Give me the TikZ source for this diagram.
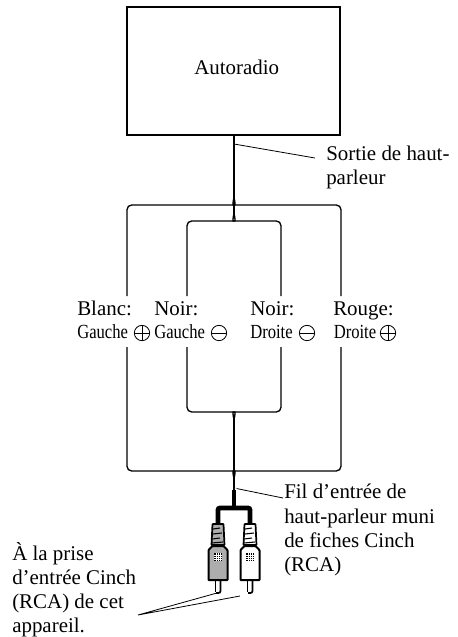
\documentclass[tikz,border=0pt]{standalone}
\usepackage{graphicx}
\usepackage{fontspec}
\setmainfont{Liberation Serif}
\begin{document}
\begin{tikzpicture}[x=0.75pt,y=-0.75pt,
  wire/.style={draw=black,line width=1pt,rounded corners=3.5pt},
  lead/.style={draw=black,line width=0.6pt},
  main/.style={draw=black,line width=1.7pt},
  txt/.style={anchor=base west,inner sep=0pt,font=\fontsize{15.7pt}{18pt}\selectfont},
  tag/.style={anchor=base west,inner sep=0pt,font=\fontsize{15pt}{18pt}\selectfont},
  sign/.style={circle,draw=black,line width=0.6pt,minimum size=11.5pt,inner sep=0pt},
  plugbody/.style={draw=black,line width=1.3pt,rounded corners=0.5pt},
  ]
\useasboundingbox (0,0) rectangle (458,637);
\node[draw=black,line width=1.4pt,inner sep=0pt,minimum width=159.5pt,minimum height=96.5pt] (box) at (233.5,71) {};
\node[txt] (radio) at (194,74) {Autoradio};
% coordinates
\coordinate (top) at (234,135);
\coordinate (j2) at (234,217);
\coordinate (j3) at (234,416);
\coordinate (nub) at (234,490);
\draw[main] (top) -- (j2);
\draw[main] (j3) -- (nub);
% upper splits
\draw[wire] (127,296) -- (127,205) -- (229,205) to[out=0,in=-90] (233.6,199);
\draw[wire] (341,296) -- (341,205) -- (239,205) to[out=180,in=-90] (234.4,199);
\draw[wire] (187,296) -- (187,221) -- (229,221) to[out=0,in=-90] (233.6,215);
\draw[wire] (281,296) -- (281,221) -- (239,221) to[out=180,in=-90] (234.4,215);
% lower splits
\draw[wire] (127,347) -- (127,471) -- (229,471) to[out=0,in=90] (233.6,477);
\draw[wire] (341,347) -- (341,471) -- (239,471) to[out=180,in=90] (234.4,477);
\draw[wire] (187,347) -- (187,412) -- (229,412) to[out=0,in=90] (233.6,418);
\draw[wire] (281,347) -- (281,412) -- (239,412) to[out=180,in=90] (234.4,418);
% labels
\node[txt] (l1) at (77,315) {Blanc:};
\node[txt] (l2) at (154,315) {Noir:};
\node[txt] (l3) at (250,315) {Noir:};
\node[txt] (l4) at (333,315) {Rouge:};
\node[tag] (g1) at (77,338) {\scalebox{0.83}[1]{Gauche}};
\node[tag] (g2) at (154,338) {\scalebox{0.83}[1]{Gauche}};
\node[tag] (g3) at (250,338) {\scalebox{0.83}[1]{Droite}};
\node[tag] (g4) at (333.5,338) {\scalebox{0.83}[1]{Droite}};
\node[sign] (s1) at (142,333) {}; \draw[line width=0.6pt] (s1.west)--(s1.east) (s1.north)--(s1.south);
\node[sign] (s2) at (219,333) {}; \draw[line width=0.6pt] (s2.west)--(s2.east);
\node[sign] (s3) at (307,333) {}; \draw[line width=0.6pt] (s3.west)--(s3.east);
\node[sign] (s4) at (388,333) {}; \draw[line width=0.6pt] (s4.west)--(s4.east) (s4.north)--(s4.south);
% Sortie
\coordinate (a1) at (234,144);
\coordinate (a1e) at (315,158);
\draw[lead] (a1) -- (a1e);
\node[txt] (t1) at (326,160) {Sortie de haut-};
\node[txt] (t1b) at (326,184) {parleur};
% harness
\draw[line width=3.6pt] (234,490) -- (234,508);
\draw[line width=3.6pt,rounded corners=1.5pt] (218,524) -- (218,508) -- (250,508) -- (250,524);
% Fil
\coordinate (a2) at (234,488);
\coordinate (a2e) at (283,498);
\draw[lead] (a2) -- (a2e);
\draw[draw=white,line width=0.7pt] (235,488.2) -- (236.5,488.5);
\node[txt] (t2) at (284,498) {Fil d’entrée de};
\node[txt] (t2b) at (284,523) {haut-parleur muni};
\node[txt] (t2c) at (284,547) {de fiches Cinch};
\node[txt] (t2d) at (284,571) {(RCA)};
% plugs
\foreach \c/\f in {218/black!32,250/white}{
  \draw[plugbody,fill=\f] (\c-5.5,524) -- (\c+5.5,524) -- (\c+6.5,545) -- (\c-6.5,545) -- cycle;
  \draw[line width=0.8pt] (\c-5,529)--(\c+2,528) (\c-5,534)--(\c+4,533) (\c-6,539)--(\c+2,538) (\c-6,543)--(\c+5,542);
  \draw[plugbody,fill=\f,line width=1.5pt] (\c-5.5,546) -- (\c+5.5,546) -- (\c+9.5,550) -- (\c+9.5,580) -- (\c-9.5,580) -- (\c-9.5,550) -- cycle;
  \fill[black] (\c-4,553) rectangle (\c+4,561);
  \foreach \i in {-2,0,2}{\draw[white,line width=0.25pt] (\c+\i,553)--(\c+\i,561) (\c-4,557+\i)--(\c+4,557+\i);}
  \draw[line width=0.7pt] (\c-2.5,580) -- (\c-2.5,592);
  \draw[line width=1.3pt,rounded corners=1.5pt] (\c+2.5,580) -- (\c+2.5,593) -- (\c-2,593);
}
\coordinate (tip) at (138,615);
\coordinate (pa) at (217,593);
\coordinate (pb) at (240,596);
\draw[lead] (pa) -- (tip) -- (pb);
\node[txt] (t3) at (12,560) {À la prise};
\node[txt] (t3b) at (12,584) {d’entrée Cinch};
\node[txt] (t3c) at (12,608) {(RCA) de cet};
\node[txt] (t3d) at (12,632) {appareil.};
\end{tikzpicture}
\end{document}
